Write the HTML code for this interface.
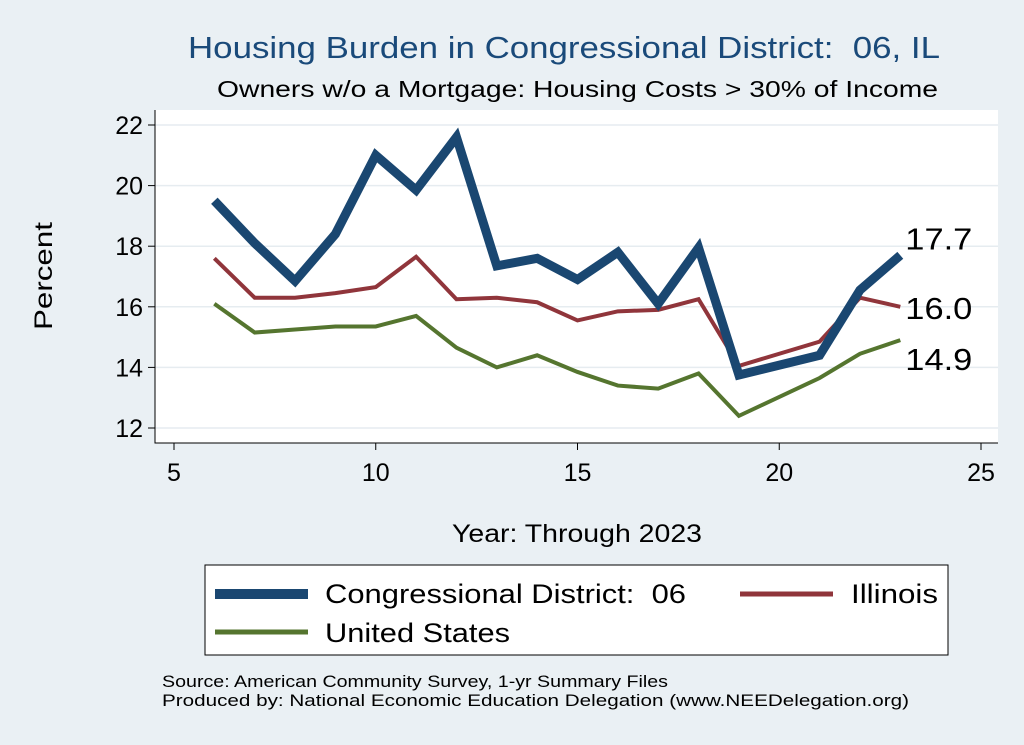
<!DOCTYPE html>
<html><head><meta charset="utf-8"><style>
body{margin:0;background:#eaf0f4;}
svg{display:block;font-family:"Liberation Sans",Arial,sans-serif;}
</style></head><body>
<svg width="1024" height="745">
<rect x="0" y="0" width="1024" height="745" fill="#eaf0f4"/>
<text x="188" y="58" font-size="31" fill="#1a4a7a" textLength="752" lengthAdjust="spacingAndGlyphs">Housing Burden in Congressional District:&#160;&#160;06, IL</text>
<text x="217" y="97" font-size="23" fill="#000" textLength="721" lengthAdjust="spacingAndGlyphs">Owners w/o a Mortgage: Housing Costs &gt; 30% of Income</text>
<rect x="155" y="110" width="843" height="333" fill="#fff"/>
<g id="grid"></g><g id="axes"></g><g id="series"></g><g id="labels"></g>
<text x="52" y="276" font-size="25" text-anchor="middle" textLength="108" lengthAdjust="spacingAndGlyphs" transform="rotate(-90 52 276)">Percent</text>
<text x="452" y="542" font-size="25" textLength="250" lengthAdjust="spacingAndGlyphs">Year: Through 2023</text>
<g>
<rect x="205" y="565" width="743" height="90" fill="#fff" stroke="#000" stroke-width="1"/>
<line x1="215" y1="594" x2="308" y2="594" stroke="#1a4771" stroke-width="10"/>
<text x="325" y="603" font-size="27" textLength="361" lengthAdjust="spacingAndGlyphs">Congressional District:&#160;&#160;06</text>
<line x1="740" y1="594" x2="833" y2="594" stroke="#90353b" stroke-width="5"/>
<text x="851" y="603" font-size="27" textLength="87" lengthAdjust="spacingAndGlyphs">Illinois</text>
<line x1="215" y1="632" x2="308" y2="632" stroke="#55752f" stroke-width="5"/>
<text x="325" y="642" font-size="27" textLength="185" lengthAdjust="spacingAndGlyphs">United States</text>
</g>
<text x="162" y="687" font-size="17" textLength="506" lengthAdjust="spacingAndGlyphs">Source: American Community Survey, 1-yr Summary Files</text>
<text x="162" y="706" font-size="17" textLength="747" lengthAdjust="spacingAndGlyphs">Produced by: National Economic Education Delegation (www.NEEDelegation.org)</text>
</svg>
<script>
const years=[6,7,8,9,10,11,12,13,14,15,16,17,18,19,21,22,23];
const district=[19.5,18.1,16.85,18.4,21.0,19.85,21.6,17.35,17.6,16.9,17.8,16.1,17.95,13.75,14.4,16.55,17.7];
const illinois=[17.6,16.3,16.3,16.45,16.65,17.65,16.25,16.3,16.15,15.55,15.85,15.9,16.25,14.05,14.85,16.3,16.0];
const us=[16.1,15.15,15.25,15.35,15.35,15.7,14.65,14.0,14.4,13.85,13.4,13.3,13.8,12.4,13.65,14.45,14.9];
const xTicks=[5,10,15,20,25];
const yTicks=[12,14,16,18,20,22];
const endLabels=["17.7","16.0","14.9"];
const NS="http://www.w3.org/2000/svg";
const X=v=>174+(v-5)*(981-174)/20;
const Y=v=>428-(v-12)*(428-125)/10;
function mk(t,a,p){const e=document.createElementNS(NS,t);for(const k in a)e.setAttribute(k,a[k]);document.getElementById(p).appendChild(e);return e;}
yTicks.forEach(t=>{
 const g=mk('line',{x1:155,x2:998,y1:Y(t),y2:Y(t),stroke:'#e6ecf0','stroke-width':1.5},'grid');
 
 
 const k=mk('line',{x1:148,x2:155,y1:Y(t),y2:Y(t),stroke:'#000'},'axes');
 
 
 const l=mk('text',{x:143,y:Y(t)+9,'font-size':25,'text-anchor':'end'},'axes');l.textContent=t;
 
 
});
xTicks.forEach(t=>{
 const k=mk('line',{x1:X(t),x2:X(t),y1:443,y2:450,stroke:'#000'},'axes');
 
 
 const l=mk('text',{x:X(t),y:481,'font-size':25,'text-anchor':'middle'},'axes');l.textContent=t;
 
 
});
const ax=mk('path',{d:'M155 110 V443 H998',fill:'none',stroke:'#000','stroke-width':1},'axes');


[[us,'#55752f',4,'line-us'],[illinois,'#90353b',4,'line-illinois'],[district,'#1a4771',9,'line-district']].forEach(([d,c,w,n])=>{
 const p=mk('polyline',{points:years.map((y,i)=>X(y)+','+Y(d[i])).join(' '),fill:'none',stroke:c,'stroke-width':w,'stroke-linejoin':'miter'},'series');
 
 
});
const last=years.length-1;
[[district,0,-6],[illinois,1,12],[us,2,30]].forEach(([d,i,dy])=>{
 const t=mk('text',{x:X(years[last])+5,y:Y(d[last])+dy,'font-size':31,textLength:67,lengthAdjust:'spacingAndGlyphs'},'labels');t.textContent=endLabels[i];
 
 
});
</script>
</body></html>
